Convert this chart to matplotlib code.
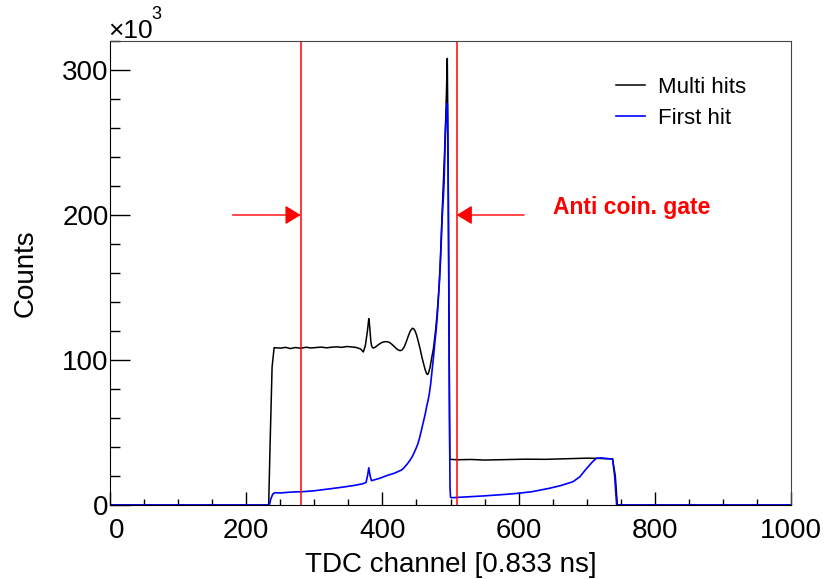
import matplotlib
matplotlib.use("Agg")
import matplotlib.pyplot as plt
import matplotlib.transforms as mtransforms
from matplotlib.ticker import MultipleLocator

plt.rcParams['font.family'] = ['Liberation Sans', 'DejaVu Sans']

# TDC spectrum, counts in units of 10^3
multi_x = [0, 233, 235, 238, 241, 250, 258, 265, 272, 280, 288, 295, 303, 310, 318,
           325, 333, 340, 348, 355, 362, 368, 372, 375, 378, 380, 381, 382, 383,
           384, 385.5, 387, 390, 394, 398, 402, 406, 410, 414, 418, 422, 426,
           429, 432, 435, 438, 441, 444, 446, 448, 450, 452, 455, 458, 461, 463,
           465, 466.5, 468, 470, 472, 475, 478, 480, 482, 483.5, 485, 486.5, 488,
           489.5, 491, 492.3, 493.5, 494.4, 495.3, 496.5, 498, 499, 510, 530, 550,
           580, 610, 640, 670, 700, 720, 738, 742, 745, 1000]
multi_y = [0, 0, 40, 95, 108.5, 108.2, 108.7, 107.9, 108.6, 108.1, 108.8, 108.3,
           108.6, 108.9, 108.4, 108.8, 109.1, 108.7, 109.3, 109.0, 108.6, 107.6,
           105.5, 110, 120, 128.5, 125, 119, 113, 110, 108.5, 108.3, 109, 110.5,
           111.8, 112.5, 112.7, 112.2, 110.8, 109, 107.3, 106.4, 107, 109, 112.5,
           116.5, 120, 121.9, 121.5, 120, 117.5, 114, 108.5, 102, 96.5, 93, 90.5,
           90, 91.5, 95, 100.5, 108, 120, 130, 142, 153, 168, 187, 205, 222, 240,
           256, 275, 291, 308, 240, 110, 31.5, 31.2, 31.4, 31.0, 31.3, 31.6, 31.5,
           31.9, 32.3, 32.1, 31.8, 20, 0, 0]

first_x = [0, 234, 236, 239, 242, 250, 260, 270, 283, 300, 320, 340, 356, 370,
           376, 378.5, 380, 382, 384, 390, 396, 406, 418, 428, 432, 436, 440, 444,
           448, 452, 455, 458, 461, 463, 465, 467, 469, 471, 473, 475, 477, 479,
           480.6, 482, 483.6, 485, 486, 487, 488, 489.5, 490.5, 491.5, 492.4,
           493.3, 494.2, 495.3, 496.5, 497.5, 498.5, 499.3, 500, 501, 520, 550,
           580, 600, 620, 645, 662, 680, 690, 700, 708, 714, 720, 730, 738, 741,
           744, 1000]
first_y = [0, 0, 4, 7.5, 8.5, 8.3, 8.7, 9.0, 9.2, 9.8, 11.0, 12.2, 13.3, 14.5,
           15.5, 21, 25.7, 20, 16.8, 17.6, 18.4, 20.2, 22.0, 24.1, 25.8, 28, 30.5,
           33.5, 37.5, 42, 47, 53, 59, 63, 68, 72, 77, 84, 93, 102, 112, 121, 130,
           141, 153, 165, 176, 188, 200, 212, 222, 238, 256, 266, 272, 277, 230,
           150, 60, 12, 5.5, 5.0, 5.5, 6.3, 7.3, 8.1, 9.2, 11.5, 13.4, 16.1, 19.5,
           25.3, 29.5, 32.2, 32.5, 32.0, 31.7, 20, 0, 0]

gate_lo = 280
gate_hi = 509

fig = plt.figure(figsize=(8.25, 5.79), dpi=100)
ax = fig.add_axes([110 / 825, 74 / 579, 681 / 825, 464 / 579])

ax.plot(multi_x, multi_y, color='black', lw=1.1, label='Multi hits')
ax.plot(first_x, first_y, color='blue', lw=1.2, label='First hit')

ax.axvline(gate_lo, color='red', lw=1.1)
ax.axvline(gate_hi, color='red', lw=1.1)

arrow_style = '-|>,head_length=0.95,head_width=0.58'
ax.annotate('', xy=(gate_lo, 200), xytext=(180, 200),
            arrowprops=dict(arrowstyle=arrow_style, color='red', lw=1.0,
                            mutation_scale=10, shrinkA=0, shrinkB=0))
ax.annotate('', xy=(gate_hi, 200), xytext=(608, 200),
            arrowprops=dict(arrowstyle=arrow_style, color='red', lw=1.0,
                            mutation_scale=10, shrinkA=0, shrinkB=0))
ax.text(650, 201, 'Anti coin. gate', color='red', fontsize=16.5,
        fontweight='bold', va='baseline', ha='left')

ax.set_xlim(0, 1000)
ax.set_ylim(0, 320)
ax.xaxis.set_major_locator(MultipleLocator(200))
ax.xaxis.set_minor_locator(MultipleLocator(50))
ax.yaxis.set_major_locator(MultipleLocator(100))
ax.yaxis.set_minor_locator(MultipleLocator(20))
ax.tick_params(which='both', direction='in', top=False, right=False,
               labelsize=20, width=1)
ax.tick_params(axis='x', which='major', length=9.5, pad=9)
ax.tick_params(axis='x', which='minor', length=4.5)
ax.tick_params(axis='y', which='major', length=14.5, pad=1)
ax.tick_params(axis='y', which='minor', length=7.5)
for side in ['left', 'bottom']:
    ax.spines[side].set_color('black')
for side in ['top', 'right']:
    ax.spines[side].set_color('#444444')

# nudge the x-axis "0" off the y-axis "0"
fig.canvas.draw()
shift = mtransforms.ScaledTranslation(7 / 100, 0, fig.dpi_scale_trans)
for tick in ax.xaxis.get_major_ticks():
    if tick.get_loc() == 0:
        tick.label1.set_transform(tick.label1.get_transform() + shift)

ax.set_xlabel('TDC channel [0.833 ns]', fontsize=20, labelpad=6)
ax.set_ylabel('Counts', fontsize=20, labelpad=17)

fig.text(108 / 825, 1 - 38 / 579, '×10', fontsize=19, va='baseline', ha='left')
fig.text(151 / 825, 1 - 19 / 579, '3', fontsize=13, va='baseline', ha='left')

ax.legend(loc='upper left', bbox_to_anchor=(616 / 825, 1 - 77 / 579),
          bbox_transform=fig.transFigure, frameon=False, fontsize=16,
          handlelength=1.3, handletextpad=0.6, labelspacing=0.45,
          borderpad=0, borderaxespad=0)

fig.savefig('out.png', dpi=100)
